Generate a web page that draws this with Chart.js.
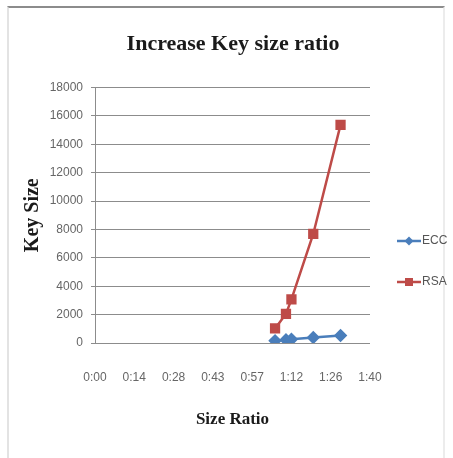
<!DOCTYPE html>
<html>
<head>
<meta charset="utf-8">
<script src="https://cdn.jsdelivr.net/npm/chart.js@4"></script>
<style>
  html, body { margin: 0; padding: 0; background: #fff; }
  #frame { position: absolute; left: 7px; top: 6px; width: 434px; height: 460px;
           border-left: 2px solid #e3e3e3; border-right: 2px solid #ececec; border-top: 2px solid #8c8c8c; background: #fff; }
  #wrap { position: absolute; left: 0; top: 0; width: 453px; height: 458px; }
</style>
</head>
<body>
<div id="frame"></div>
<div id="wrap"><canvas id="c" width="453" height="458"></canvas></div>
<script>
// Size ratio (Excel read "1:6" etc. as h:mm) expressed in minutes
const sizeRatioMinutes = [66, 70, 72, 80, 90];
const eccKeySize = [160, 224, 256, 384, 521];
const rsaKeySize = [1024, 2048, 3072, 7680, 15360];
const seriesNames = ['ECC', 'RSA'];
const yTicks = [0, 2000, 4000, 6000, 8000, 10000, 12000, 14000, 16000, 18000];

const ECC_COLOR = '#4a7ebb';
const RSA_COLOR = '#be4b48';

function pts(xs, ys) { return xs.map((x, i) => ({ x: x, y: ys[i] })); }

const tickFont = { family: "'Liberation Sans Narrow', 'Liberation Sans', sans-serif", size: 12 };
const serifBold = "'Liberation Serif', 'DejaVu Serif', serif";

const legendPlugin = {
  id: 'sideLegend',
  afterDraw(chart) {
    const ctx = chart.ctx;
    const items = [
      { name: seriesNames[0], color: ECC_COLOR, y: 241, style: 'diamond' },
      { name: seriesNames[1], color: RSA_COLOR, y: 282, style: 'square' }
    ];
    ctx.save();
    items.forEach(it => {
      ctx.strokeStyle = it.color; ctx.lineWidth = 2.5;
      ctx.beginPath(); ctx.moveTo(397, it.y); ctx.lineTo(421, it.y); ctx.stroke();
      ctx.fillStyle = it.color;
      if (it.style === 'diamond') {
        ctx.beginPath(); ctx.moveTo(409, it.y - 4.5); ctx.lineTo(413.5, it.y); ctx.lineTo(409, it.y + 4.5); ctx.lineTo(404.5, it.y); ctx.closePath(); ctx.fill();
      } else {
        ctx.fillRect(405, it.y - 4, 8, 8);
      }
      ctx.fillStyle = '#555';
      ctx.font = "12px 'Liberation Sans Narrow', 'Liberation Sans', sans-serif";
      ctx.textBaseline = 'middle';
      ctx.fillText(it.name, 422, it.y);
    });
    ctx.restore();
  }
};

new Chart(document.getElementById('c'), {
  type: 'scatter',
  data: {
    datasets: [
      { label: seriesNames[0], data: pts(sizeRatioMinutes, eccKeySize), showLine: true,
        borderColor: ECC_COLOR, backgroundColor: ECC_COLOR, borderWidth: 2.5,
        pointStyle: 'rectRot', pointRadius: 5, pointHoverRadius: 5 },
      { label: seriesNames[1], data: pts(sizeRatioMinutes, rsaKeySize), showLine: true,
        borderColor: RSA_COLOR, backgroundColor: RSA_COLOR, borderWidth: 2.5,
        pointStyle: 'rect', pointRadius: 5.5, pointHoverRadius: 5.5 }
    ]
  },
  options: {
    responsive: false,
    animation: false,
    events: [],
    layout: { padding: { top: 29, left: 20, right: 7, bottom: 20 } },
    plugins: {
      legend: { display: false },
      tooltip: { enabled: false },
      title: {
        display: true, text: 'Increase Key size ratio', color: '#1a1a1a',
        font: { family: serifBold, size: 22, weight: 'bold' },
        padding: { top: 2, bottom: 30 }
      }
    },
    scales: {
      x: {
        type: 'linear', min: 0, max: 100.8,
        afterFit: s => { s.height = 95; },
        ticks: { stepSize: 14.4, color: '#666', font: tickFont, padding: 27, maxRotation: 0,
          callback: v => { const h = Math.floor(v / 60 + 1e-9); const m = Math.floor(v - h * 60 + 1e-6); return h + ':' + String(m).padStart(2, '0'); } },
        grid: { display: false, drawTicks: false },
        border: { display: false },
        title: { display: true, text: 'Size Ratio', color: '#1a1a1a',
          font: { family: serifBold, size: 17, weight: 'bold' }, padding: { top: 0, bottom: 8 } }
      },
      y: {
        min: 0, max: 18000,
        afterFit: s => { s.width = 75; },
        afterBuildTicks: s => { s.ticks = yTicks.map(v => ({ value: v })); },
        ticks: { color: '#666', font: tickFont, padding: 8, callback: v => String(v) },
        grid: { color: '#8c8c8c', lineWidth: 1, tickLength: 4, drawTicks: true },
        border: { display: true, color: '#8c8c8c' },
        title: { display: true, text: 'Key Size', color: '#1a1a1a',
          font: { family: serifBold, size: 20, weight: 'bold' }, padding: { top: 1, bottom: 0 } }
      },
      legendSpace: {
        type: 'linear', position: 'right', min: 0, max: 1,
        afterFit: s => { s.width = 76; },
        ticks: { display: false },
        grid: { display: false, drawTicks: false },
        border: { display: false }
      }
    }
  },
  plugins: [legendPlugin]
});
</script>
</body>
</html>
